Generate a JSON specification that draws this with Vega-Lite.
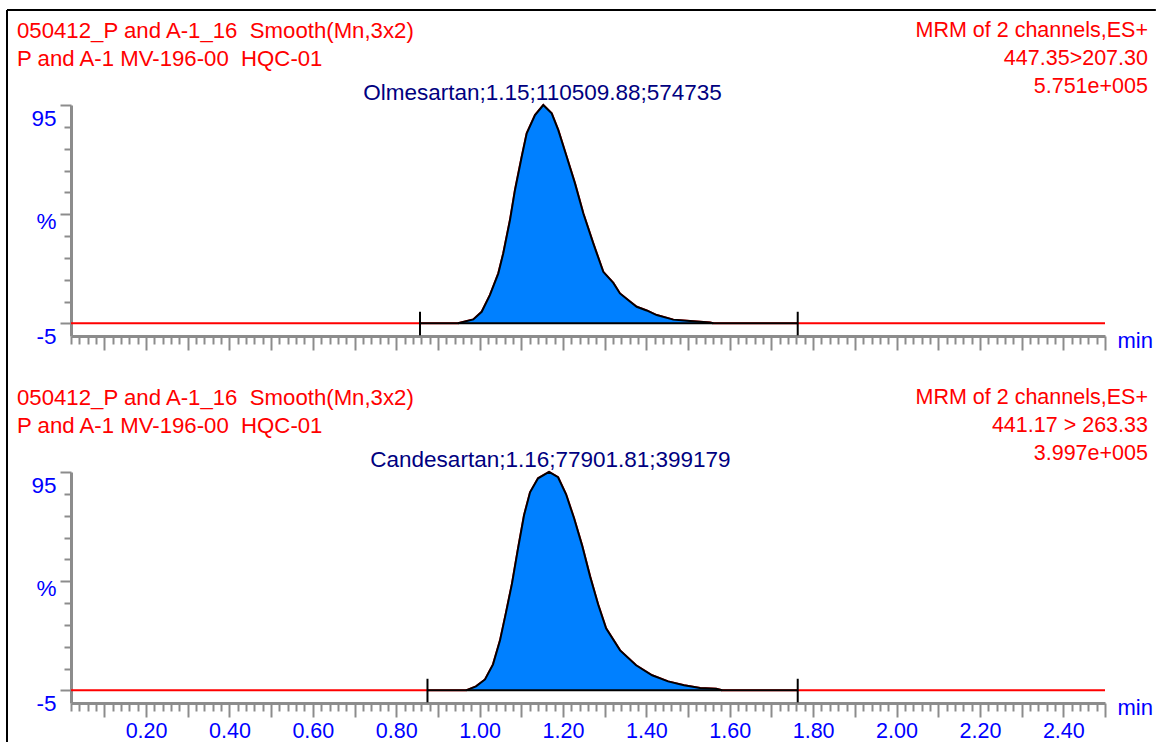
{
  "$schema": "https://vega.github.io/schema/vega-lite/v6.json",
  "autosize": {"type": "pad"},
  "padding": {"left": 6, "top": 9, "right": 0, "bottom": 0},
  "background": "white",
  "config": {
    "font": "Liberation Sans",
    "view": {"stroke": null},
    "axis": {"labelFont": "Liberation Sans", "titleFont": "Liberation Sans", "grid": false}
  },
  "datasets": {
    "trace": [
      {"panel": "top", "t": 0.02, "i": -5},
      {"panel": "top", "t": 0.9482, "i": -5},
      {"panel": "top", "t": 0.9849, "i": -3.2},
      {"panel": "top", "t": 1.005, "i": 0.3},
      {"panel": "top", "t": 1.0249, "i": 8.0},
      {"panel": "top", "t": 1.0449, "i": 17.9},
      {"panel": "top", "t": 1.0568, "i": 27.1},
      {"panel": "top", "t": 1.0729, "i": 42.3},
      {"panel": "top", "t": 1.0849, "i": 56.1},
      {"panel": "top", "t": 1.101, "i": 71.3},
      {"panel": "top", "t": 1.113, "i": 82.0},
      {"panel": "top", "t": 1.1329, "i": 90.4},
      {"panel": "top", "t": 1.1528, "i": 95.0},
      {"panel": "top", "t": 1.1729, "i": 91.2},
      {"panel": "top", "t": 1.1888, "i": 83.5},
      {"panel": "top", "t": 1.2089, "i": 71.3},
      {"panel": "top", "t": 1.2288, "i": 59.1},
      {"panel": "top", "t": 1.2487, "i": 45.4},
      {"panel": "top", "t": 1.2727, "i": 31.6},
      {"panel": "top", "t": 1.2967, "i": 18.6},
      {"panel": "top", "t": 1.3207, "i": 13.5},
      {"panel": "top", "t": 1.3367, "i": 8.7},
      {"panel": "top", "t": 1.3607, "i": 5.0},
      {"panel": "top", "t": 1.3768, "i": 2.6},
      {"panel": "top", "t": 1.4008, "i": 0.9},
      {"panel": "top", "t": 1.4248, "i": -1.2},
      {"panel": "top", "t": 1.4646, "i": -3.3},
      {"panel": "top", "t": 1.5046, "i": -3.9},
      {"panel": "top", "t": 1.5526, "i": -4.6},
      {"panel": "top", "t": 1.5605, "i": -5},
      {"panel": "top", "t": 2.5, "i": -5},
      {"panel": "bottom", "t": 0.02, "i": -5},
      {"panel": "bottom", "t": 0.9674, "i": -5},
      {"panel": "bottom", "t": 0.9914, "i": -3.2},
      {"panel": "bottom", "t": 1.013, "i": 0.0},
      {"panel": "bottom", "t": 1.0322, "i": 6.9},
      {"panel": "bottom", "t": 1.049, "i": 17.9},
      {"panel": "bottom", "t": 1.0634, "i": 30.7},
      {"panel": "bottom", "t": 1.0778, "i": 44.0},
      {"panel": "bottom", "t": 1.0922, "i": 60.0},
      {"panel": "bottom", "t": 1.1066, "i": 75.2},
      {"panel": "bottom", "t": 1.121, "i": 85.7},
      {"panel": "bottom", "t": 1.1402, "i": 92.1},
      {"panel": "bottom", "t": 1.1666, "i": 95.0},
      {"panel": "bottom", "t": 1.1882, "i": 92.6},
      {"panel": "bottom", "t": 1.2074, "i": 84.8},
      {"panel": "bottom", "t": 1.2266, "i": 73.8},
      {"panel": "bottom", "t": 1.2458, "i": 61.4},
      {"panel": "bottom", "t": 1.265, "i": 47.2},
      {"panel": "bottom", "t": 1.2842, "i": 34.4},
      {"panel": "bottom", "t": 1.3034, "i": 23.4},
      {"panel": "bottom", "t": 1.337, "i": 13.3},
      {"panel": "bottom", "t": 1.3754, "i": 6.5},
      {"panel": "bottom", "t": 1.4138, "i": 1.9},
      {"panel": "bottom", "t": 1.4521, "i": -0.9},
      {"panel": "bottom", "t": 1.4905, "i": -2.7},
      {"panel": "bottom", "t": 1.5289, "i": -3.9},
      {"panel": "bottom", "t": 1.5673, "i": -4.3},
      {"panel": "bottom", "t": 1.5817, "i": -5},
      {"panel": "bottom", "t": 2.5, "i": -5}
    ],
    "integ": [
      {"panel": "top", "start": 0.857, "end": 1.763, "base": -5},
      {"panel": "bottom", "start": 0.875, "end": 1.763, "base": -5}
    ],
    "ann": [
      {"panel": "top", "label": "Olmesartan;1.15;110509.88;574735", "rt": 1.151, "apex": 95},
      {"panel": "bottom", "label": "Candesartan;1.16;77901.81;399179", "rt": 1.17, "apex": 95}
    ],
    "hdr": [
      {"panel": "top", "left": "050412_P and A-1_16\u00a0 Smooth(Mn,3x2)\nP and A-1 MV-196-00\u00a0 HQC-01", "right": "MRM of 2 channels,ES+\n447.35>207.30\n5.751e+005"},
      {"panel": "bottom", "left": "050412_P and A-1_16\u00a0 Smooth(Mn,3x2)\nP and A-1 MV-196-00\u00a0 HQC-01", "right": "MRM of 2 channels,ES+\n441.17 > 263.33\n3.997e+005"}
    ],
    "one": [{}]
  },
  "vconcat": [
    {
      "width": 1034,
      "height": 231,
      "layer": [
        {
          "data": {"name": "trace"},
          "transform": [{"filter": "datum.panel == 'top'"}],
          "mark": {"type": "line", "color": "#FF0000", "strokeWidth": 2},
          "encoding": {
            "x": {"field": "t", "type": "quantitative",
              "scale": {"domain": [0.02, 2.5], "nice": false, "zero": false},
              "axis": {
                "values": [0.02,0.04,0.06,0.08,0.1,0.12,0.14,0.16,0.18,0.2,0.22,0.24,0.26,0.28,0.3,0.32,0.34,0.36,0.38,0.4,0.42,0.44,0.46,0.48,0.5,0.52,0.54,0.56,0.58,0.6,0.62,0.64,0.66,0.68,0.7,0.72,0.74,0.76,0.78,0.8,0.82,0.84,0.86,0.88,0.9,0.92,0.94,0.96,0.98,1,1.02,1.04,1.06,1.08,1.1,1.12,1.14,1.16,1.18,1.2,1.22,1.24,1.26,1.28,1.3,1.32,1.34,1.36,1.38,1.4,1.42,1.44,1.46,1.48,1.5,1.52,1.54,1.56,1.58,1.6,1.62,1.64,1.66,1.68,1.7,1.72,1.74,1.76,1.78,1.8,1.82,1.84,1.86,1.88,1.9,1.92,1.94,1.96,1.98,2,2.02,2.04,2.06,2.08,2.1,2.12,2.14,2.16,2.18,2.2,2.22,2.24,2.26,2.28,2.3,2.32,2.34,2.36,2.38,2.4,2.42,2.44,2.46,2.48,2.5],
                "tickCount": 300,
                "labels": false,
                "tickSize": {"condition": {"test": "abs(datum.value*10 - round(datum.value*10)) < 0.001", "value": 14}, "value": 8},
                "tickColor": "#8C8C8C", "tickWidth": 2,
                "domainColor": "#8C8C8C", "domainWidth": 3,
                "title": "min", "titleX": 1046, "titleY": 11, "titleAlign": "left", "titleBaseline": "alphabetic",
                "titleAngle": 0, "titleColor": "#0000FF", "titleFontSize": 22, "titleFontWeight": "normal"
              }},
            "y": {"field": "i", "type": "quantitative",
              "scale": {"domain": [-10.8, 95], "nice": false, "zero": false},
              "axis": {
                "values": [-5,5,15,25,35,45,55,65,75,85,95],
                "tickCount": 30,
                "labelExpr": "datum.value == 95 ? '95' : datum.value == 45 ? '%' : datum.value == -5 ? '-5' : ''",
                "tickSize": {"condition": {"test": "datum.value == 95 || datum.value == 45 || datum.value == -5", "value": 11}, "value": 7},
                "labelOffset": {"condition": {"test": "datum.value == 45", "value": 7}, "value": 13},
                "labelPadding": 4, "labelOverlap": false, "labelColor": "#0000FF", "labelFontSize": 22.5,
                "tickColor": "#8C8C8C", "tickWidth": 2, "domainColor": "#8C8C8C", "domainWidth": 3,
                "title": null
              }}
          }
        },
        {
          "data": {"name": "trace"},
          "transform": [{"filter": "datum.panel == 'top' && datum.t >= 0.857 && datum.t <= 1.763"}],
          "mark": {"type": "area", "color": "#0080FF", "opacity": 1},
          "encoding": {
            "x": {"field": "t", "type": "quantitative"},
            "y": {"field": "i", "type": "quantitative"},
            "y2": {"datum": -5}
          }
        },
        {
          "data": {"name": "trace"},
          "transform": [{"filter": "datum.panel == 'top' && datum.t >= 0.857 && datum.t <= 1.763"}],
          "mark": {"type": "line", "color": "#000000", "strokeWidth": 2},
          "encoding": {
            "x": {"field": "t", "type": "quantitative"},
            "y": {"field": "i", "type": "quantitative"}
          }
        },
        {
          "data": {"name": "integ"},
          "transform": [{"filter": "datum.panel == 'top'"}],
          "mark": {"type": "rule", "color": "#000000", "strokeWidth": 2},
          "encoding": {
            "x": {"field": "start", "type": "quantitative"},
            "x2": {"field": "end"},
            "y": {"field": "base", "type": "quantitative"}
          }
        },
        {
          "data": {"name": "integ"},
          "transform": [{"filter": "datum.panel == 'top'"}, {"fold": ["start", "end"], "as": ["edge", "tt"]}],
          "mark": {"type": "rule", "color": "#000000", "strokeWidth": 2},
          "encoding": {
            "x": {"field": "tt", "type": "quantitative"},
            "y": {"datum": -10.5},
            "y2": {"datum": 0.3}
          }
        },
        {
          "data": {"name": "ann"},
          "transform": [{"filter": "datum.panel == 'top'"}],
          "mark": {"type": "text", "color": "#000080", "font": "Liberation Sans", "fontSize": 22.5, "align": "center", "baseline": "alphabetic", "dy": -5},
          "encoding": {
            "x": {"field": "rt", "type": "quantitative"},
            "y": {"field": "apex", "type": "quantitative"},
            "text": {"field": "label"}
          }
        },
        {
          "data": {"name": "hdr"},
          "transform": [{"filter": "datum.panel == 'top'"}],
          "mark": {"type": "text", "color": "#FF0000", "font": "Liberation Sans", "fontSize": 22.2, "align": "left", "baseline": "alphabetic", "lineBreak": "\n", "lineHeight": 28},
          "encoding": {
            "x": {"datum": -0.1095},
            "y": {"datum": 125.7},
            "text": {"field": "left"}
          }
        },
        {
          "data": {"name": "hdr"},
          "transform": [{"filter": "datum.panel == 'top'"}],
          "mark": {"type": "text", "color": "#FF0000", "font": "Liberation Sans", "fontSize": 21.5, "align": "right", "baseline": "alphabetic", "lineBreak": "\n", "lineHeight": 28},
          "encoding": {
            "x": {"datum": 2.603},
            "y": {"datum": 126.1},
            "text": {"field": "right"}
          }
        },
        {
          "data": {"name": "one"},
          "mark": {"type": "rule", "color": "#000000", "strokeWidth": 2},
          "encoding": {
            "x": {"datum": -0.1335},
            "x2": {"datum": 2.622},
            "y": {"datum": 138.5}
          }
        },
        {
          "data": {"name": "one"},
          "mark": {"type": "rule", "color": "#000000", "strokeWidth": 2},
          "encoding": {
            "x": {"datum": -0.1335},
            "y": {"datum": 138.5},
            "y2": {"datum": -49.3}
          }
        }
      ]
    },
    {
      "width": 1034,
      "height": 231,
      "layer": [
        {
          "data": {"name": "trace"},
          "transform": [{"filter": "datum.panel == 'bottom'"}],
          "mark": {"type": "line", "color": "#FF0000", "strokeWidth": 2},
          "encoding": {
            "x": {"field": "t", "type": "quantitative",
              "scale": {"domain": [0.02, 2.5], "nice": false, "zero": false},
              "axis": {
                "values": [0.02,0.04,0.06,0.08,0.1,0.12,0.14,0.16,0.18,0.2,0.22,0.24,0.26,0.28,0.3,0.32,0.34,0.36,0.38,0.4,0.42,0.44,0.46,0.48,0.5,0.52,0.54,0.56,0.58,0.6,0.62,0.64,0.66,0.68,0.7,0.72,0.74,0.76,0.78,0.8,0.82,0.84,0.86,0.88,0.9,0.92,0.94,0.96,0.98,1,1.02,1.04,1.06,1.08,1.1,1.12,1.14,1.16,1.18,1.2,1.22,1.24,1.26,1.28,1.3,1.32,1.34,1.36,1.38,1.4,1.42,1.44,1.46,1.48,1.5,1.52,1.54,1.56,1.58,1.6,1.62,1.64,1.66,1.68,1.7,1.72,1.74,1.76,1.78,1.8,1.82,1.84,1.86,1.88,1.9,1.92,1.94,1.96,1.98,2,2.02,2.04,2.06,2.08,2.1,2.12,2.14,2.16,2.18,2.2,2.22,2.24,2.26,2.28,2.3,2.32,2.34,2.36,2.38,2.4,2.42,2.44,2.46,2.48,2.5],
                "tickCount": 300,
                "labelExpr": "abs(datum.value*5 - round(datum.value*5)) < 0.001 ? format(datum.value, '.2f') : ''",
                "labelOverlap": false, "labelFlush": false, "labelBound": false,
                "labelColor": "#0000FF", "labelFontSize": 21.5, "labelPadding": 3,
                "tickSize": {"condition": {"test": "abs(datum.value*10 - round(datum.value*10)) < 0.001", "value": 14}, "value": 8},
                "tickColor": "#8C8C8C", "tickWidth": 2,
                "domainColor": "#8C8C8C", "domainWidth": 3,
                "title": "min", "titleX": 1046, "titleY": 11, "titleAlign": "left", "titleBaseline": "alphabetic",
                "titleAngle": 0, "titleColor": "#0000FF", "titleFontSize": 22, "titleFontWeight": "normal"
              }},
            "y": {"field": "i", "type": "quantitative",
              "scale": {"domain": [-10.8, 95], "nice": false, "zero": false},
              "axis": {
                "values": [-5,5,15,25,35,45,55,65,75,85,95],
                "tickCount": 30,
                "labelExpr": "datum.value == 95 ? '95' : datum.value == 45 ? '%' : datum.value == -5 ? '-5' : ''",
                "tickSize": {"condition": {"test": "datum.value == 95 || datum.value == 45 || datum.value == -5", "value": 11}, "value": 7},
                "labelOffset": {"condition": {"test": "datum.value == 45", "value": 7}, "value": 13},
                "labelPadding": 4, "labelOverlap": false, "labelColor": "#0000FF", "labelFontSize": 22.5,
                "tickColor": "#8C8C8C", "tickWidth": 2, "domainColor": "#8C8C8C", "domainWidth": 3,
                "title": null
              }}
          }
        },
        {
          "data": {"name": "trace"},
          "transform": [{"filter": "datum.panel == 'bottom' && datum.t >= 0.875 && datum.t <= 1.763"}],
          "mark": {"type": "area", "color": "#0080FF", "opacity": 1},
          "encoding": {
            "x": {"field": "t", "type": "quantitative"},
            "y": {"field": "i", "type": "quantitative"},
            "y2": {"datum": -5}
          }
        },
        {
          "data": {"name": "trace"},
          "transform": [{"filter": "datum.panel == 'bottom' && datum.t >= 0.875 && datum.t <= 1.763"}],
          "mark": {"type": "line", "color": "#000000", "strokeWidth": 2},
          "encoding": {
            "x": {"field": "t", "type": "quantitative"},
            "y": {"field": "i", "type": "quantitative"}
          }
        },
        {
          "data": {"name": "integ"},
          "transform": [{"filter": "datum.panel == 'bottom'"}],
          "mark": {"type": "rule", "color": "#000000", "strokeWidth": 2},
          "encoding": {
            "x": {"field": "start", "type": "quantitative"},
            "x2": {"field": "end"},
            "y": {"field": "base", "type": "quantitative"}
          }
        },
        {
          "data": {"name": "integ"},
          "transform": [{"filter": "datum.panel == 'bottom'"}, {"fold": ["start", "end"], "as": ["edge", "tt"]}],
          "mark": {"type": "rule", "color": "#000000", "strokeWidth": 2},
          "encoding": {
            "x": {"field": "tt", "type": "quantitative"},
            "y": {"datum": -10.5},
            "y2": {"datum": 0.3}
          }
        },
        {
          "data": {"name": "ann"},
          "transform": [{"filter": "datum.panel == 'bottom'"}],
          "mark": {"type": "text", "color": "#000080", "font": "Liberation Sans", "fontSize": 22.5, "align": "center", "baseline": "alphabetic", "dy": -5},
          "encoding": {
            "x": {"field": "rt", "type": "quantitative"},
            "y": {"field": "apex", "type": "quantitative"},
            "text": {"field": "label"}
          }
        },
        {
          "data": {"name": "hdr"},
          "transform": [{"filter": "datum.panel == 'bottom'"}],
          "mark": {"type": "text", "color": "#FF0000", "font": "Liberation Sans", "fontSize": 22.2, "align": "left", "baseline": "alphabetic", "lineBreak": "\n", "lineHeight": 28},
          "encoding": {
            "x": {"datum": -0.1095},
            "y": {"datum": 125.7},
            "text": {"field": "left"}
          }
        },
        {
          "data": {"name": "hdr"},
          "transform": [{"filter": "datum.panel == 'bottom'"}],
          "mark": {"type": "text", "color": "#FF0000", "font": "Liberation Sans", "fontSize": 21.5, "align": "right", "baseline": "alphabetic", "lineBreak": "\n", "lineHeight": 28},
          "encoding": {
            "x": {"datum": 2.603},
            "y": {"datum": 126.1},
            "text": {"field": "right"}
          }
        },
        {
          "data": {"name": "one"},
          "mark": {"type": "rule", "color": "#000000", "strokeWidth": 2},
          "encoding": {
            "x": {"datum": -0.1335},
            "y": {"datum": 127.8},
            "y2": {"datum": -28.8}
          }
        }
      ]
    }
  ],
  "spacing": 136,
  "bounds": "flush"
}
